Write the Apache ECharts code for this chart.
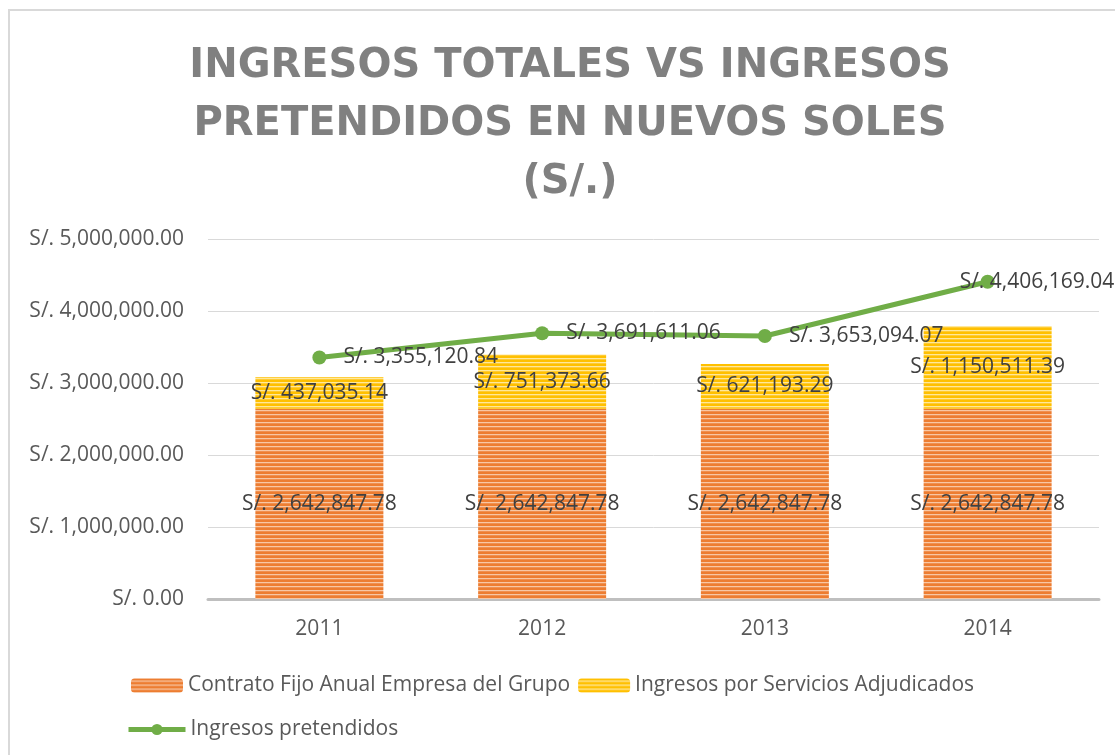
<!DOCTYPE html>
<html lang="es">
<head>
    <meta charset="UTF-8">
    <title>Ingresos totales vs ingresos pretendidos</title>
    <script src="https://cdn.jsdelivr.net/npm/echarts@6/dist/echarts.min.js"></script>
    <style>
        html, body { margin: 0; padding: 0; background: #fff; }
        #chart { width: 1115px; height: 755px; }
    </style>
</head>
<body>
<div id="chart"></div>
<script>
    // datos
    var years = ['2011', '2012', '2013', '2014'];
    var contratoFijo = [2642847.78, 2642847.78, 2642847.78, 2642847.78];
    var serviciosAdjudicados = [437035.14, 751373.66, 621193.29, 1150511.39];
    var pretendidos = [3355120.84, 3691611.06, 3653094.07, 4406169.04];
    var yTicks = [0, 1000000, 2000000, 3000000, 4000000, 5000000];

    function soles(v) {
        return 'S/. ' + Number(v).toLocaleString('en-US', { minimumFractionDigits: 2, maximumFractionDigits: 2 });
    }

    // trama de rayas horizontales (como en Excel)
    function stripes(rows) {
        var c = document.createElement('canvas');
        c.width = 4;
        c.height = rows.length;
        var ctx = c.getContext('2d');
        for (var i = 0; i < rows.length; i++) {
            ctx.fillStyle = rows[i];
            ctx.fillRect(0, i, 4, 1);
        }
        return { image: c, repeat: 'repeat' };
    }
    var orangePat = stripes(['#ED7D31', '#ED7D31', '#F8C7A4', '#F09050']);
    var yellowPat = stripes(['#FFC000', '#FFC000', '#FFE89A', '#FFCB33']);

    var font = 'Open Sans';
    var fs = 21;
    var lblColor = '#404040';

    var lineData = pretendidos.map(function (v, i) {
        if (i == pretendidos.length - 1) {
            return { value: v, label: { offset: [-52, 0] } };
        }
        return v;
    });

    var option = {
        backgroundColor: '#fff',
        animation: false,
        title: {
            text: 'INGRESOS TOTALES VS INGRESOS\nPRETENDIDOS EN NUEVOS SOLES\n(S/.)',
            left: 565,
            top: 33,
            textAlign: 'center',
            textStyle: {
                fontFamily: 'DejaVu Sans',
                fontWeight: 'bold',
                fontSize: 40,
                lineHeight: 58,
                color: '#808080'
            }
        },
        graphic: [{
            type: 'rect',
            shape: { x: 9, y: 10, width: 1300, height: 900 },
            style: { fill: 'none', stroke: '#D9D9D9', lineWidth: 2 },
            silent: true
        }],
        legend: [{
            data: ['Contrato Fijo Anual Empresa del Grupo', 'Ingresos por Servicios Adjudicados'],
            left: 126,
            top: 670,
            itemWidth: 52,
            itemHeight: 14,
            itemGap: 8,
            textStyle: { fontFamily: font, fontSize: fs, color: '#595959' }
        }, {
            data: ['Ingresos pretendidos'],
            left: 121,
            top: 714,
            itemWidth: 57,
            itemHeight: 14,
            lineStyle: { width: 5 },
            textStyle: { fontFamily: font, fontSize: fs, color: '#595959' }
        }],
        grid: { left: 208, right: 16, top: 239, bottom: 156 },
        xAxis: {
            type: 'category',
            data: years,
            axisTick: { show: false },
            axisLine: { lineStyle: { color: '#BFBFBF', width: 3 } },
            axisLabel: { fontFamily: font, fontSize: fs, color: '#595959', margin: 20 }
        },
        yAxis: {
            type: 'value',
            min: yTicks[0],
            max: yTicks[yTicks.length - 1],
            interval: yTicks[1] - yTicks[0],
            axisLine: { show: false },
            axisTick: { show: false },
            splitLine: { lineStyle: { color: '#D9D9D9', width: 1 } },
            axisLabel: {
                fontFamily: font, fontSize: fs, color: '#595959', margin: 24,
                formatter: function (v) { return soles(v); }
            }
        },
        series: [{
            name: 'Contrato Fijo Anual Empresa del Grupo',
            type: 'bar',
            stack: 'total',
            barWidth: 128,
            data: contratoFijo,
            itemStyle: { color: orangePat },
            label: {
                show: true, position: 'inside',
                fontFamily: font, fontSize: fs, color: lblColor,
                formatter: function (p) { return soles(p.value); }
            }
        }, {
            name: 'Ingresos por Servicios Adjudicados',
            type: 'bar',
            stack: 'total',
            barWidth: 128,
            data: serviciosAdjudicados,
            itemStyle: { color: yellowPat },
            label: {
                show: true, position: 'inside',
                fontFamily: font, fontSize: fs, color: lblColor,
                formatter: function (p) { return soles(p.value); }
            }
        }, {
            name: 'Ingresos pretendidos',
            type: 'line',
            data: lineData,
            symbol: 'circle',
            symbolSize: 14,
            lineStyle: { color: '#70AD47', width: 5 },
            itemStyle: { color: '#70AD47' },
            label: {
                show: true, position: 'right', distance: 17,
                fontFamily: font, fontSize: fs, color: lblColor,
                formatter: function (p) { return soles(p.value); }
            }
        }]
    };

    echarts.init(document.getElementById('chart')).setOption(option);
</script>
</body>
</html>
